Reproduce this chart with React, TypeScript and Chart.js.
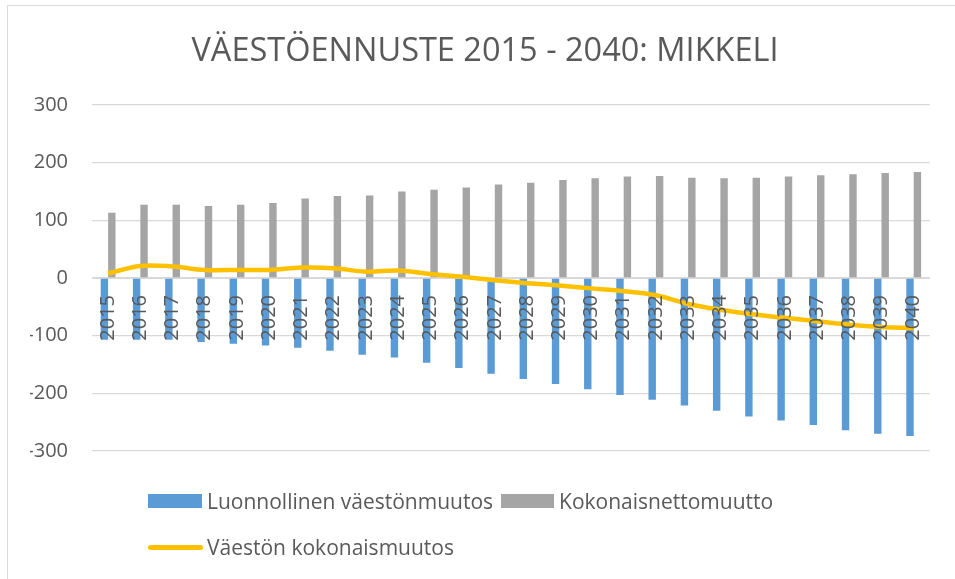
import React, { useEffect, useRef } from "react";
import { Chart, registerables } from "chart.js";

Chart.register(...registerables);

const years = [
  "2015", "2016", "2017", "2018", "2019", "2020", "2021", "2022", "2023", "2024", "2025", "2026", "2027",
  "2028", "2029", "2030", "2031", "2032", "2033", "2034", "2035", "2036", "2037", "2038", "2039", "2040",
];
const luonnollinen = [
  -107, -107, -107, -111, -114, -117, -121, -126, -133, -138, -147, -156, -166,
  -175, -184, -193, -203, -211, -221, -230, -240, -247, -255, -264, -270, -274,
];
const nettomuutto = [
  113, 127, 127, 125, 127, 130, 138, 142, 143, 150, 153, 157, 162,
  165, 170, 173, 176, 177, 174, 173, 174, 176, 178, 180, 182, 184,
];
const kokonaismuutos = [
  8, 21, 20, 14, 14, 14, 18, 17, 11, 13, 7, 2, -4,
  -9, -13, -18, -23, -30, -45, -55, -63, -69, -75, -81, -85, -87,
];
const yTicks = [-300, -200, -100, 0, 100, 200, 300];

const TITLE = "VÄESTÖENNUSTE 2015 - 2040: MIKKELI";
const SERIES_NAMES = ["Luonnollinen väestönmuutos", "Kokonaisnettomuutto", "Väestön kokonaismuutos"];
const COLORS = ["#5B9BD5", "#A5A5A5", "#FFC000"];
const FONT = "'Open Sans', 'DejaVu Sans', sans-serif";
const TEXT = "#595959";
const GRID = "#D9D9D9";

export default function App() {
  const canvasRef = useRef<HTMLCanvasElement | null>(null);

  useEffect(() => {
    if (!canvasRef.current) return;
    const chart = new Chart(canvasRef.current, {
      type: "bar",
      data: {
        labels: years,
        datasets: [
          {
            type: "line",
            label: SERIES_NAMES[2],
            data: kokonaismuutos,
            borderColor: COLORS[2],
            backgroundColor: COLORS[2],
            borderWidth: 4.5,
            pointRadius: 0,
            tension: 0.35,
            order: 0,
          } as any,
          {
            label: SERIES_NAMES[0],
            data: luonnollinen,
            backgroundColor: COLORS[0],
            categoryPercentage: 0.46,
            barPercentage: 1,
            order: 1,
          },
          {
            label: SERIES_NAMES[1],
            data: nettomuutto,
            backgroundColor: COLORS[1],
            categoryPercentage: 0.46,
            barPercentage: 1,
            order: 1,
          },
        ],
      },
      options: {
        animation: false,
        responsive: false,
        layout: { padding: { left: 30, right: 15, top: 0, bottom: 128 } },
        plugins: {
          legend: { display: false },
          tooltip: { enabled: false },
          title: {
            display: true,
            text: TITLE,
            color: TEXT,
            font: { family: FONT, size: 32.5, weight: "normal" },
            padding: { top: 32, bottom: 34 },
          },
        },
        scales: {
          x: {
            position: { y: 0 } as any,
            grid: { display: false, drawTicks: false },
            border: { display: true, color: GRID, width: 1 },
            ticks: {
              color: TEXT,
              font: { family: FONT, size: 20 },
              minRotation: 90,
              maxRotation: 90,
              autoSkip: false,
              padding: 17,
              z: 1,
            } as any,
          },
          y: {
            min: -300,
            max: 300,
            afterBuildTicks: (scale: any) => {
              scale.ticks = yTicks.map((v) => ({ value: v }));
            },
            afterFit: (scale: any) => {
              scale.width = 62;
            },
            grid: { color: GRID, lineWidth: 1.3, drawTicks: false },
            border: { display: false },
            ticks: {
              color: TEXT,
              font: { family: FONT, size: 20 },
              padding: 24,
            },
          },
        },
      },
    });
    return () => chart.destroy();
  }, []);

  const legendText: React.CSSProperties = {
    fontFamily: FONT,
    fontSize: 21,
    color: TEXT,
    whiteSpace: "nowrap",
    lineHeight: "24px",
  };

  return (
    <div
      style={{
        position: "fixed",
        left: 0,
        top: 0,
        width: 955,
        height: 579,
        overflow: "hidden",
        background: "#fff",
      }}
    >
      <div
        style={{
          position: "absolute",
          left: 7,
          top: 5,
          width: 2000,
          height: 2000,
          border: `1px solid ${GRID}`,
        }}
      />
      <canvas ref={canvasRef} width={955} height={579} style={{ position: "absolute", left: 0, top: 0 }} />
      <div style={{ position: "absolute", left: 148, top: 489, display: "flex", alignItems: "center" }}>
        <span style={{ display: "inline-block", width: 54, height: 14, background: COLORS[0], marginRight: 5 }} />
        <span style={legendText}>{SERIES_NAMES[0]}</span>
        <span
          style={{ display: "inline-block", width: 53, height: 14, background: COLORS[1], marginLeft: 8, marginRight: 5 }}
        />
        <span style={legendText}>{SERIES_NAMES[1]}</span>
      </div>
      <div style={{ position: "absolute", left: 148, top: 535, display: "flex", alignItems: "center" }}>
        <span
          style={{ display: "inline-block", width: 55, height: 5, borderRadius: 3, background: COLORS[2], marginRight: 4 }}
        />
        <span style={legendText}>{SERIES_NAMES[2]}</span>
      </div>
    </div>
  );
}
